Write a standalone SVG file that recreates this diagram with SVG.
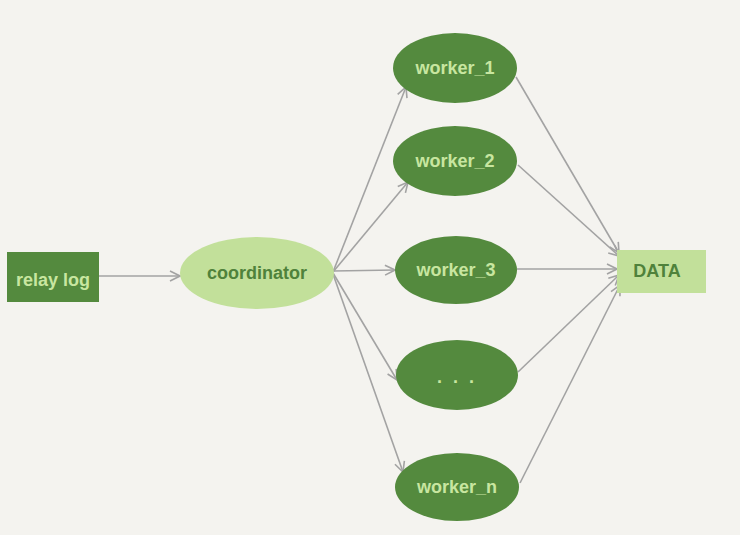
<svg xmlns="http://www.w3.org/2000/svg" width="740" height="535" viewBox="0 0 740 535">
<style>
.dk{fill:#548a3e}
.lt{fill:#c2e09a}
.tl{font-family:"Liberation Sans",Arial,sans-serif;font-size:18px;font-weight:bold;fill:#c8e6a0;text-anchor:middle;dominant-baseline:central}
.td{font-family:"Liberation Sans",Arial,sans-serif;font-size:18px;font-weight:bold;fill:#4f823b;text-anchor:middle;dominant-baseline:central}
.c{stroke:#a3a3a3;stroke-width:1.6;fill:none;marker-end:url(#ah)}
</style>
<defs>
<marker id="ah" viewBox="0 0 12 12" refX="11" refY="6" markerWidth="12" markerHeight="12" markerUnits="userSpaceOnUse" orient="auto">
<path d="M1,1 L11,6 L1,11" fill="none" stroke="#a3a3a3" stroke-width="1.6"/>
</marker>
</defs>
<rect width="740" height="535" fill="#f4f3ef"/>
<g id="connectors">
<line class="c" x1="99" y1="276" x2="180" y2="276"/>
<line class="c" x1="333" y1="272" x2="406" y2="87"/>
<line class="c" x1="333" y1="272" x2="408" y2="182"/>
<line class="c" x1="333" y1="271" x2="395" y2="270"/>
<line class="c" x1="333" y1="273" x2="397" y2="380"/>
<line class="c" x1="333" y1="274" x2="403" y2="472"/>
<line class="c" x1="516" y1="77" x2="619" y2="253"/>
<line class="c" x1="518" y1="165" x2="619" y2="256"/>
<line class="c" x1="517" y1="269" x2="617" y2="269"/>
<line class="c" x1="518" y1="372" x2="619" y2="275"/>
<line class="c" x1="520" y1="483" x2="620" y2="285"/>
</g>
<g id="relaylog">
<rect class="dk" x="7" y="252" width="92" height="50"/>
<text class="tl" x="53" y="280">relay log</text>
</g>
<g id="coordinator">
<ellipse class="lt" cx="257" cy="273" rx="77" ry="36"/>
<text class="td" x="257" y="273">coordinator</text>
</g>
<g id="worker1">
<ellipse class="dk" cx="455" cy="68" rx="62" ry="35"/>
<text class="tl" x="455" y="68">worker_1</text>
</g>
<g id="worker2">
<ellipse class="dk" cx="455" cy="161" rx="62" ry="35"/>
<text class="tl" x="455" y="161">worker_2</text>
</g>
<g id="worker3">
<ellipse class="dk" cx="456" cy="270" rx="61" ry="34"/>
<text class="tl" x="456" y="270">worker_3</text>
</g>
<g id="workerdots">
<ellipse class="dk" cx="457" cy="375" rx="61" ry="35"/>
<text class="tl" x="457" y="377" letter-spacing="3">. . .</text>
</g>
<g id="workern">
<ellipse class="dk" cx="457" cy="487" rx="62" ry="34"/>
<text class="tl" x="457" y="487">worker_n</text>
</g>
<g id="data">
<rect class="lt" x="617" y="250" width="89" height="43"/>
<text class="td" x="657" y="271" font-size="20">DATA</text>
</g>
</svg>
